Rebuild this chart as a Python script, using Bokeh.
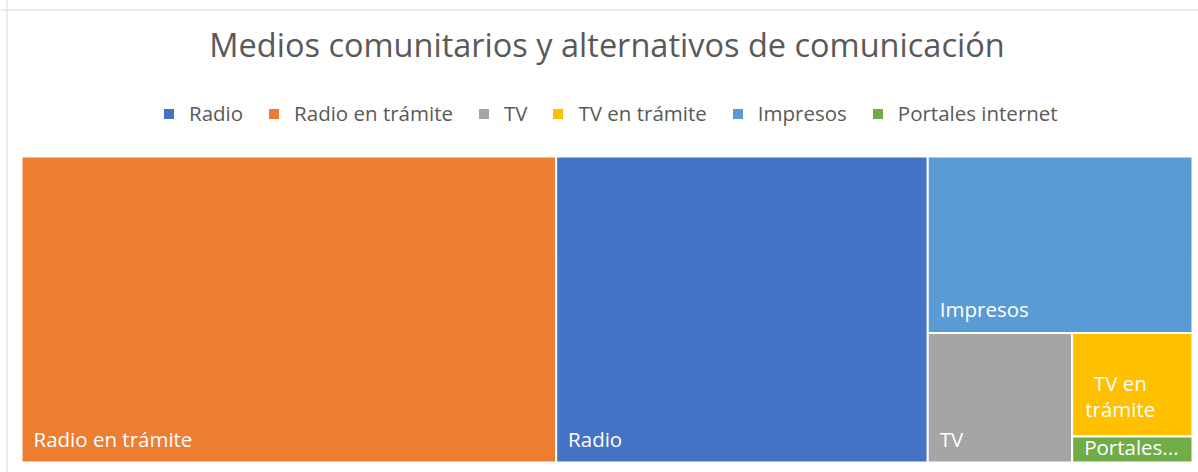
from bokeh.plotting import figure
from bokeh.models import ColumnDataSource, Range1d, Label, Legend, LegendItem, Span
from bokeh.core.properties import value
from bokeh.embed import file_html
from bokeh.resources import INLINE

# ---- data ----
categories = ["Radio", "Radio en trámite", "TV", "TV en trámite", "Impresos", "Portales internet"]
counts = [73, 105, 12, 8, 30, 2]
colors = ["#4472C4", "#ED7D31", "#A5A5A5", "#FFC000", "#5B9BD5", "#70AD47"]
tile_labels = ["Radio", "Radio en trámite", "TV", "TV en\ntrámite", "Impresos", "Portales..."]
title_text = "Medios comunitarios y alternativos de comunicación"

# ---- layout sizes (canvas pixels) ----
W, H = 1198, 472
X0, X1, Y0, Y1 = 21, 1192, 156, 462
FONT = "Open Sans"
LABEL_SIZE = "20.5px"
BASE_SHIFT = 9  # compensates renderer's baseline placement


def worst(row, length):
    s = sum(row)
    return max(max(length * length * r / (s * s), s * s / (length * length * r)) for r in row)


def squarify(areas, x, y, w, h):
    """Squarified treemap; areas sorted descending, returns (x, y, w, h) per area."""
    rects = []
    areas = list(areas)
    while areas:
        length = min(w, h)
        row = [areas[0]]
        i = 1
        while i < len(areas) and worst(row + [areas[i]], length) <= worst(row, length):
            row.append(areas[i])
            i += 1
        areas = areas[i:]
        s = sum(row)
        if w >= h:
            cw = s / h
            yy = y
            for a in row:
                rh = a / cw
                rects.append((x, yy, cw, rh))
                yy += rh
            x += cw
            w -= cw
        else:
            rh = s / w
            xx = x
            for a in row:
                rw = a / rh
                rects.append((xx, y, rw, rh))
                xx += rw
            y += rh
            h -= rh
    return rects


order = sorted(range(len(counts)), key=lambda i: -counts[i])
total = float(sum(counts))
cw, ch = X1 - X0, Y1 - Y0
areas = [counts[i] / total * cw * ch for i in order]
rects_sorted = squarify(areas, X0, Y0, cw, ch)
rects = [None] * len(counts)
for k, i in enumerate(order):
    rects[i] = rects_sorted[k]

left = [r[0] for r in rects]
right = [r[0] + r[2] for r in rects]
top = [r[1] for r in rects]
bottom = [r[1] + r[3] for r in rects]

src = ColumnDataSource(dict(left=left, right=right, top=top, bottom=bottom,
                            color=colors, name=categories))

p = figure(width=W, height=H, output_backend="svg", toolbar_location=None,
           x_range=Range1d(0, W), y_range=Range1d(H, 0),
           x_axis_location=None, y_axis_location=None, title=None,
           min_border=0, outline_line_color=None)
p.grid.visible = False
p.background_fill_color = "white"
p.border_fill_color = "white"

# chart border (left/top visible in reference)
p.add_layout(Span(location=6.5, dimension="height", line_color="#d9d9d9", line_width=1))
p.add_layout(Span(location=9.5, dimension="width", line_color="#d9d9d9", line_width=1))

r = p.quad(left="left", right="right", top="top", bottom="bottom", source=src,
           fill_color="color", line_color="white", line_width=2)

# tile labels
single = dict(x=[], y=[], t=[])
multi = dict(x=[], y=[], t=[])
for i, lab in enumerate(tile_labels):
    h = bottom[i] - top[i]
    wdt = right[i] - left[i]
    yb = bottom[i] - min(15, 0.27 * h) - BASE_SHIFT
    if "\n" in lab:
        multi["x"].append(left[i] + 0.4 * wdt)
        multi["y"].append(bottom[i] - 14)
        multi["t"].append(lab)
    else:
        single["x"].append(left[i] + 12)
        single["y"].append(yb)
        single["t"].append(lab)

p.text(x="x", y="y", text="t", source=ColumnDataSource(single), text_color="white",
       text_font=value(FONT), text_font_size=LABEL_SIZE, text_align="left",
       text_baseline="alphabetic")
p.text(x="x", y="y", text="t", source=ColumnDataSource(multi), text_color="white",
       text_font=value(FONT), text_font_size=LABEL_SIZE, text_align="center",
       text_baseline="bottom", text_line_height=0.92)

# title
p.add_layout(Label(x=(X0 + X1) / 2, y=44, text=title_text, text_font=FONT,
                   text_font_size="32.5px", text_color="#595959", text_align="center",
                   text_baseline="alphabetic"))

# legend
items = [LegendItem(label=categories[i], renderers=[r], index=i) for i in range(len(categories))]
legend = Legend(items=items, orientation="horizontal", location=(161, 345),
                glyph_width=15, glyph_height=15, label_standoff=13, spacing=23,
                padding=0, margin=0, border_line_alpha=0, background_fill_alpha=0,
                label_text_font=FONT, label_text_font_size=LABEL_SIZE,
                label_text_color="#595959")
p.add_layout(legend)

open("out.html", "w").write(file_html(p, INLINE))
